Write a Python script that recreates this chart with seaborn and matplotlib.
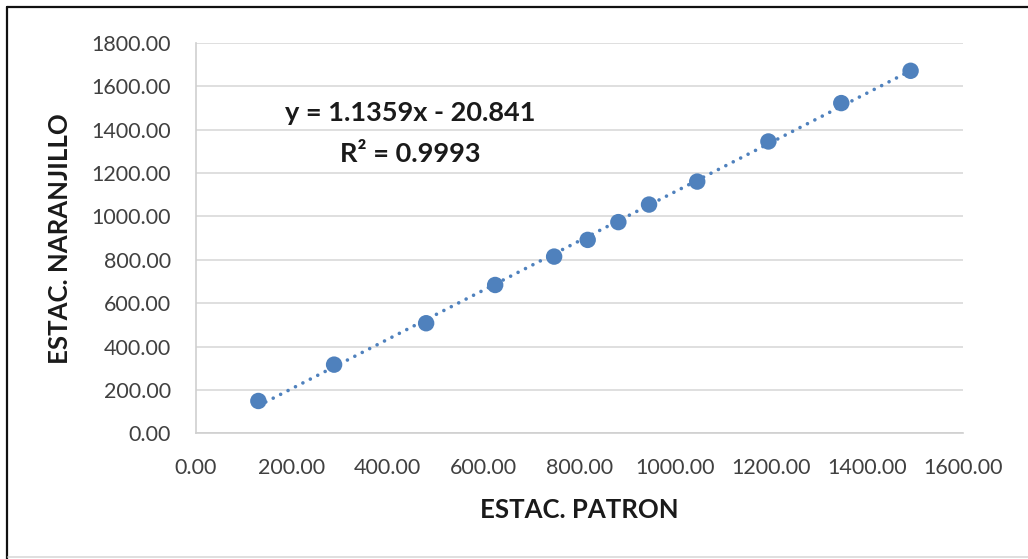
import numpy as np
import pandas as pd
import matplotlib
matplotlib.use("Agg")
import matplotlib.pyplot as plt
from matplotlib.lines import Line2D
import seaborn as sns

# Station readings: reference station (x) vs. Naranjillo station (y)
estac_patron = [130, 288, 480, 624, 747, 817, 881, 945, 1045.5, 1194, 1346, 1490.6]
estac_naranjillo = [149, 316.6, 507.6, 684, 815, 892, 974, 1055, 1161, 1346, 1523, 1672]

# Linear trend line coefficients and fit quality
slope = 1.1359
intercept = -20.841
r_squared = 0.9993

x_ticks = [0, 200, 400, 600, 800, 1000, 1200, 1400, 1600]
y_ticks = [0, 200, 400, 600, 800, 1000, 1200, 1400, 1600, 1800]

x_label = "ESTAC. PATRON"
y_label = "ESTAC. NARANJILLO"

sns.set_theme(style="white")
plt.rcParams["font.family"] = ["Lato", "DejaVu Sans"]

df = pd.DataFrame({"patron": estac_patron, "naranjillo": estac_naranjillo})

fig = plt.figure(figsize=(10.28, 5.59), dpi=100)
ax = fig.add_axes([0.1907, 0.2249, 0.9368 - 0.1907, 0.923 - 0.2249])

blue = "#4F81BD"

# Dotted trend line
xs = np.array([min(estac_patron), max(estac_patron)])
trend = pd.DataFrame({"x": xs, "y": slope * xs + intercept})
sns.lineplot(data=trend, x="x", y="y", ax=ax, color=blue, linewidth=2.6,
             linestyle=(0, (0.01, 2.3)), dash_capstyle="round", zorder=2)

sns.scatterplot(data=df, x="patron", y="naranjillo", ax=ax, color=blue,
                s=140, edgecolor="none", linewidth=0, zorder=3)

ax.set_xlim(0, 1600)
ax.set_ylim(0, 1800)
ax.set_xticks(x_ticks)
ax.set_yticks(y_ticks)
ax.set_xticklabels([f"{v:.2f}" for v in x_ticks])
ax.set_yticklabels([f"{v:.2f}" for v in y_ticks])
ax.tick_params(axis="both", length=0, labelsize=15.5, colors="#404040", pad=18)

ax.grid(axis="y", color="#D9D9D9", linewidth=1.2)
ax.grid(axis="x", visible=False)
ax.set_axisbelow(True)
for side in ["top", "right"]:
    ax.spines[side].set_visible(False)
for side in ["left", "bottom"]:
    ax.spines[side].set_color("#CFCFCF")
    ax.spines[side].set_linewidth(1.2)

ax.set_xlabel(x_label, fontsize=18.5, fontweight="bold", color="#1A1A1A", labelpad=14)
ax.set_ylabel(y_label, fontsize=18.5, fontweight="bold", color="#1A1A1A", labelpad=14)

sign = "-" if intercept < 0 else "+"
ax.text(0.279, 0.821, f"y = {slope:.4f}x {sign} {abs(intercept):.3f}",
        transform=ax.transAxes, ha="center", va="center",
        fontsize=19.5, fontweight="bold", color="#1A1A1A")
ax.text(0.279, 0.7156, f"R² = {r_squared:.4f}",
        transform=ax.transAxes, ha="center", va="center",
        fontsize=19.5, fontweight="bold", color="#1A1A1A")

# Frame around the chart area
W, H = 1028, 559
fig.add_artist(Line2D([6.5 / W, 1.0], [1 - 7 / H, 1 - 7 / H], color="#111111", linewidth=1.6))
fig.add_artist(Line2D([7 / W, 7 / W], [0, 1 - 7 / H], color="#111111", linewidth=1.6))
fig.add_artist(Line2D([8 / W, 1.0], [2 / H, 2 / H], color="#D9D9D9", linewidth=1.2))

fig.savefig("out.png", dpi=100)
